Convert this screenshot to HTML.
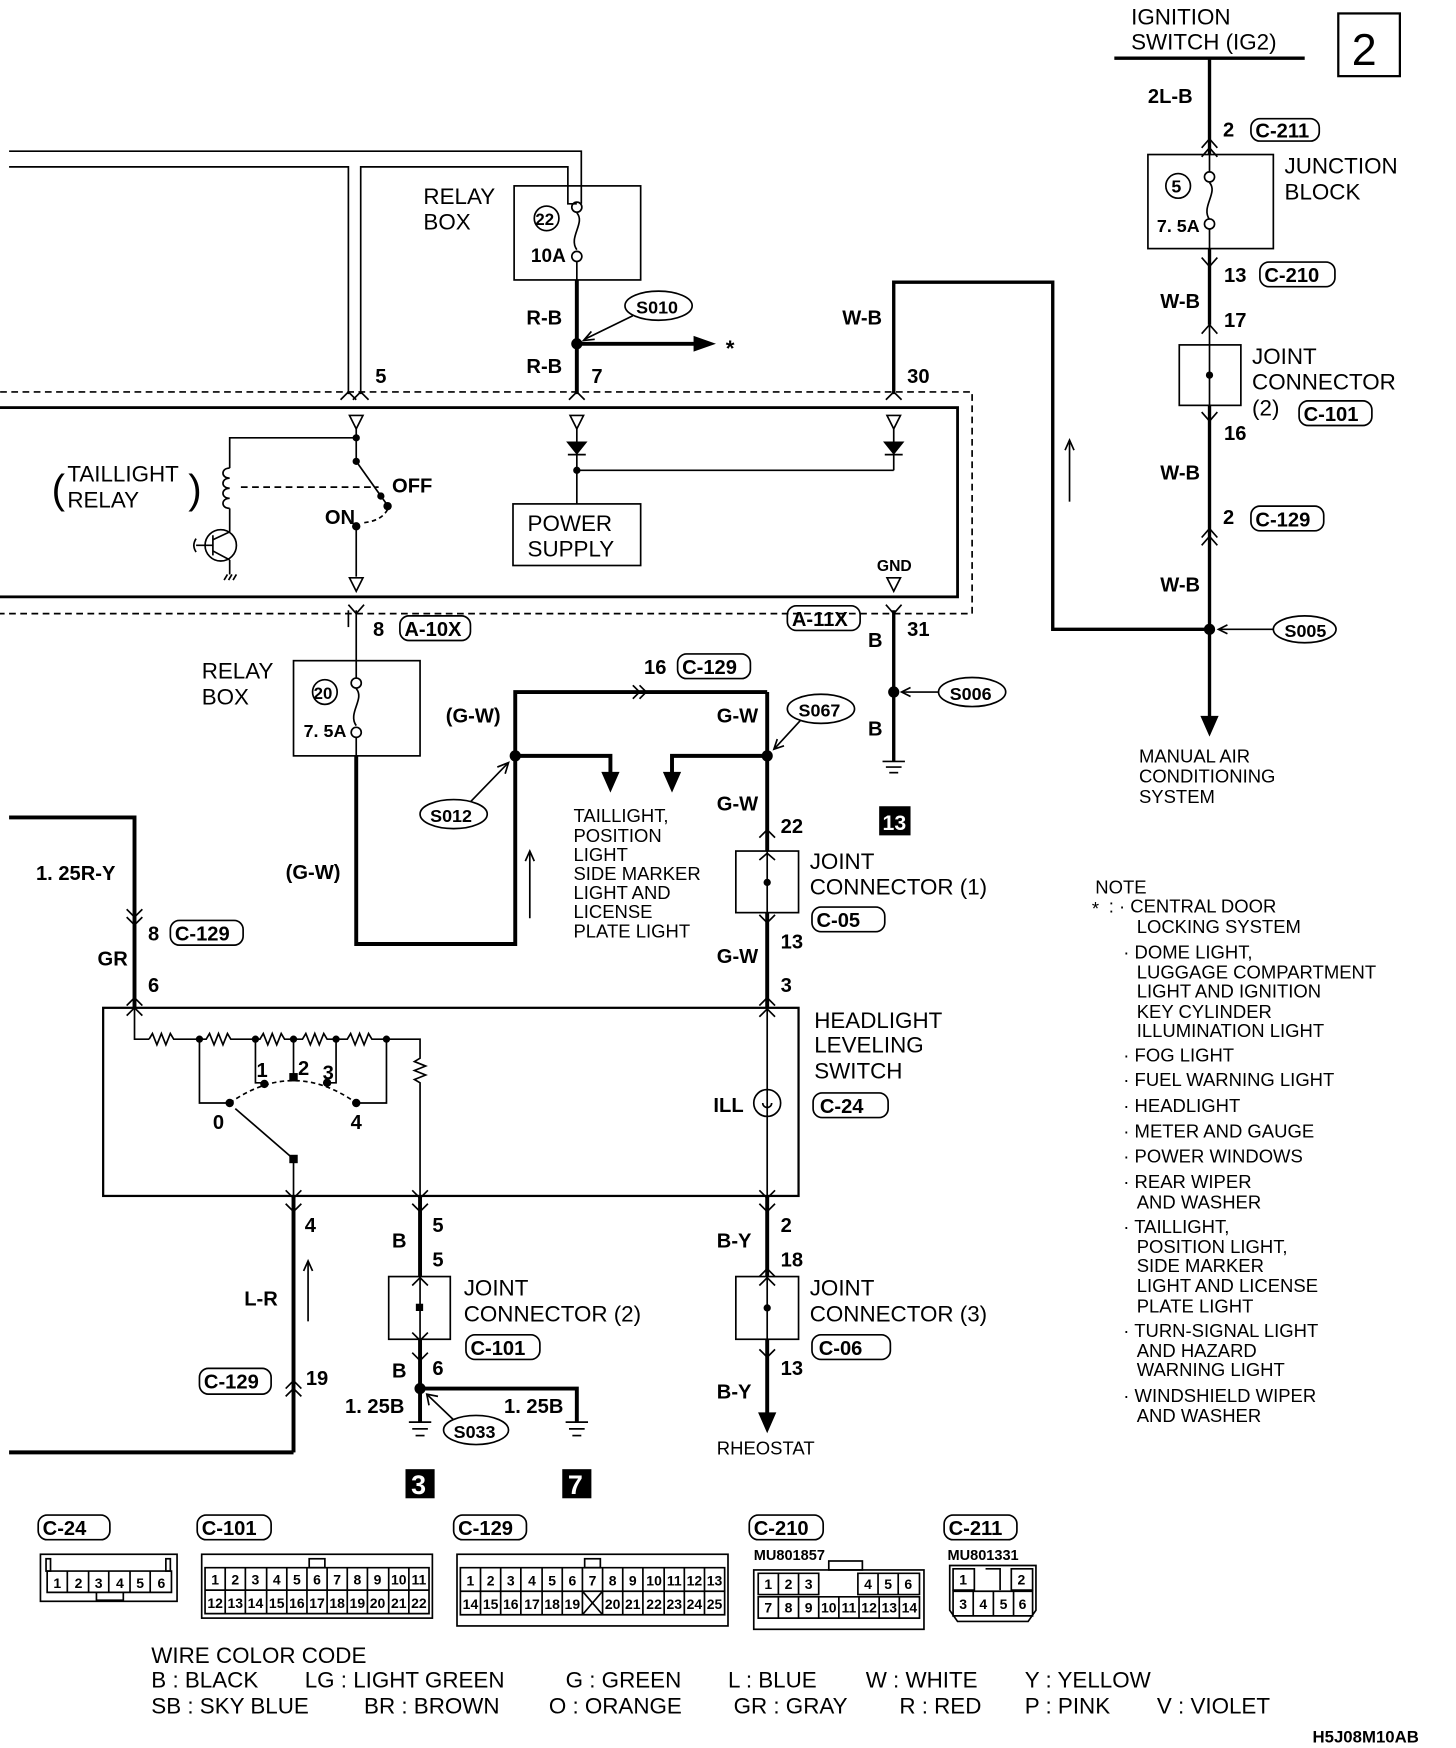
<!DOCTYPE html>
<html><head><meta charset="utf-8"><style>
html,body{margin:0;padding:0;background:#fff;}
svg{display:block;}
text{font-family:"Liberation Sans",sans-serif;fill:#000;}
.l{font-size:20px;}
.b{font-size:18px;font-weight:bold;}
.n{font-size:16.5px;}
.s{font-size:13px;font-weight:bold;}
.c{font-size:12.5px;font-weight:bold;text-anchor:middle;}
</style></head><body>
<svg width="1456" height="1748" viewBox="0 0 1300 1561" xmlns="http://www.w3.org/2000/svg">
<g fill="none" stroke="#000" stroke-width="1.5">
<line x1="995" y1="52" x2="1165" y2="52" stroke-width="3"/>
<rect x="1195" y="12" width="55" height="56" stroke-width="2"/>
<line x1="1080" y1="52" x2="1080" y2="138" stroke-width="3"/>
<polyline points="1073,132 1080,124 1087,132"/><polyline points="1073,140 1080,132 1087,140"/>
<rect x="1025" y="138" width="112" height="84"/>
<circle cx="1052" cy="166" r="11"/>
<line x1="1080" y1="138" x2="1080" y2="153"/>
<circle cx="1080" cy="158" r="4.5"/><path d="M1080 163 C1088 172 1072 185 1080 196"/>
<circle cx="1080" cy="200" r="4.5"/>
<line x1="1080" y1="205" x2="1080" y2="308"/>
<line x1="1080" y1="222" x2="1080" y2="290" stroke-width="3"/>
<polyline points="1073,230 1080,238 1087,230"/>
<polyline points="1073,298 1080,290 1087,298"/>
<rect x="1053" y="308" width="55" height="54"/>
<line x1="1080" y1="308" x2="1080" y2="362"/>
<circle cx="1080" cy="335" r="2.5" fill="#000"/>
<line x1="1080" y1="362" x2="1080" y2="650" stroke-width="3"/>
<polyline points="1073,368 1080,376 1087,368"/>
<polyline points="1073,480 1080,472 1087,480"/><polyline points="1073,487 1080,479 1087,487"/>
<polygon points="1073,640 1087,640 1080,656" fill="#000"/>
<path d="M798 352 V252 H940 V562 H1080" stroke-width="3"/>
<line x1="955" y1="448" x2="955" y2="395"/><polyline points="951,402 955,393 959,402"/>
<ellipse cx="1165" cy="562" rx="28" ry="12"/>
<line x1="1137" y1="562" x2="1088" y2="562"/><polyline points="1096,558 1088,562 1096,566"/>
<polyline points="8,135 519,135 519,182"/>
<polyline points="8,149 311,149 311,352"/>
<polyline points="322,352 322,149 507,149 507,182 515,182"/>
<rect x="459" y="166" width="113" height="84"/>
<circle cx="488" cy="195" r="11"/>
<circle cx="515" cy="185" r="4.5"/><path d="M515 190 C523 199 507 212 515 223"/>
<circle cx="515" cy="229" r="4.5"/>
<line x1="515" y1="234" x2="515" y2="250"/>
<line x1="515" y1="250" x2="515" y2="352" stroke-width="3.5"/>
<line x1="515" y1="307" x2="625" y2="307" stroke-width="3.5"/>
<polygon points="620,301 637,307 620,313" fill="#000"/>
<ellipse cx="588" cy="273" rx="30" ry="13"/>
<line x1="565" y1="282" x2="522" y2="303"/><polyline points="528,296 521,304 531,303"/>
<polyline points="304,357 311,350 318,357"/><polyline points="315,357 322,350 329,357"/>
<polyline points="508,357 515,350 522,357"/>
<polyline points="791,357 798,350 805,357"/>
<rect x="-20" y="350" width="888" height="198" stroke-dasharray="6,4"/>
<rect x="-10" y="364" width="865" height="169" stroke-width="2.5"/>
<polygon points="312,371 324,371 318,383"/>
<polygon points="509,371 521,371 515,383"/>
<polygon points="792,371 804,371 798,383"/>
<line x1="318" y1="383" x2="318" y2="410"/>
<polyline points="318,391 205,391 205,418"/>
<circle cx="318" cy="391" r="2.5" fill="#000"/><circle cx="318" cy="412" r="2.5" fill="#000"/>
<line x1="318" y1="412" x2="345" y2="450"/>
<circle cx="340" cy="443" r="2.5" fill="#000"/><circle cx="346" cy="452" r="3" fill="#000"/>
<path d="M346 455 Q340 466 322 467" stroke-dasharray="4,3"/>
<circle cx="318" cy="470" r="3" fill="#000"/>
<line x1="318" y1="470" x2="318" y2="515"/>
<polygon points="312,516 324,516 318,528"/>
<path d="M205 418 c-8 0 -8 9 0 9 c-8 0 -8 9 0 9 c-8 0 -8 9 0 9 c-8 0 -8 9 0 9"/>
<line x1="215" y1="435" x2="338" y2="435" stroke-dasharray="6,4"/>
<line x1="205" y1="454" x2="205" y2="475"/>
<circle cx="197" cy="487" r="14"/>
<line x1="190" y1="478" x2="190" y2="496"/>
<line x1="175" y1="487" x2="190" y2="487"/>
<path d="M175 481 q-4 6 0 12"/>
<line x1="190" y1="482" x2="205" y2="475"/><line x1="190" y1="492" x2="205" y2="500"/>
<line x1="205" y1="500" x2="205" y2="513"/>
<path d="M200 518 l3 -5 M204 518 l3 -5 M208 518 l3 -5"/>
<line x1="515" y1="383" x2="515" y2="450"/>
<polygon points="507,395 523,395 515,405" fill="#000"/><line x1="507" y1="406" x2="523" y2="406"/>
<line x1="798" y1="383" x2="798" y2="420"/>
<polygon points="790,395 806,395 798,405" fill="#000"/><line x1="790" y1="406" x2="806" y2="406"/>
<polyline points="515,420 798,420"/><circle cx="515" cy="420" r="2.5" fill="#000"/>
<rect x="458" y="450" width="114" height="55"/>
<polygon points="792,516 804,516 798,528"/>
<polyline points="311,540 318,548 325,540"/>
<line x1="318" y1="545" x2="318" y2="605"/>
<line x1="311" y1="545" x2="311" y2="560"/>
<polyline points="791,540 798,548 805,540"/>
<line x1="798" y1="545" x2="798" y2="680" stroke-width="3"/>
<ellipse cx="868" cy="618" rx="30" ry="13"/>
<line x1="838" y1="618" x2="806" y2="618"/><polyline points="813,614 805,618 813,622"/>
<line x1="788" y1="680" x2="808" y2="680"/><line x1="791" y1="685" x2="805" y2="685"/><line x1="794" y1="690" x2="802" y2="690"/>
<rect x="262" y="590" width="113" height="85"/>
<circle cx="290" cy="618" r="11"/>
<circle cx="318" cy="610" r="4.5"/><path d="M318 615 C326 624 310 637 318 648"/>
<circle cx="318" cy="654" r="4.5"/>
<path d="M318 675 V843 H460 V618 H685" stroke-width="3.5"/>
<line x1="318" y1="659" x2="318" y2="675"/>
<polyline points="565,612 571,618 565,624"/><polyline points="571,612 577,618 571,624"/>
<path d="M460 675 H545 V695" stroke-width="3.5"/>
<polygon points="538,690 552,690 545,706" fill="#000"/>
<path d="M685 675 H600 V695" stroke-width="3.5"/>
<polygon points="593,690 607,690 600,706" fill="#000"/>
<line x1="685" y1="618" x2="685" y2="760" stroke-width="3.5"/>
<ellipse cx="733" cy="633" rx="30" ry="13"/>
<line x1="715" y1="643" x2="692" y2="668"/><polyline points="694,660 691,669 700,666"/>
<ellipse cx="405" cy="727" rx="30" ry="13"/>
<line x1="420" y1="716" x2="453" y2="682"/><polyline points="444,685 454,681 451,691"/>
<line x1="473" y1="820" x2="473" y2="762"/><polyline points="469,769 473,760 477,769"/>
<polyline points="678,748 685,741 692,748"/>
<rect x="657" y="760" width="56" height="55"/>
<line x1="685" y1="760" x2="685" y2="815"/>
<polyline points="678,768 685,762 692,768"/>
<circle cx="685" cy="788" r="2.5" fill="#000"/>
<polyline points="678,817 685,824 692,817"/>
<line x1="685" y1="815" x2="685" y2="900" stroke-width="3.5"/>
<polyline points="678,898 685,891 692,898"/>
<polyline points="678,908 685,901 692,908"/>
<path d="M8 730 H120 V900" stroke-width="3.5"/>
<polyline points="113,812 120,819 127,812"/><polyline points="113,819 120,826 127,819"/>
<polyline points="113,898 120,891 127,898"/><polyline points="113,907 120,900 127,907"/>
<rect x="92" y="900" width="621" height="168" stroke-width="2"/>
<polyline points="120,900 120,928 133,928"/>
<path d="M133 928 l3 -5 l4 10 l4 -10 l4 10 l4 -10 l3 5 H178"/>
<path d="M178 928 H184 l3 -5 l4 10 l4 -10 l4 10 l4 -10 l3 5 H228"/>
<path d="M228 928 H232 l3 -5 l4 10 l4 -10 l4 10 l4 -10 l3 5 H262"/>
<path d="M262 928 H270 l3 -5 l4 10 l4 -10 l4 10 l4 -10 l3 5 H300"/>
<path d="M300 928 H310 l3 -5 l4 10 l4 -10 l4 10 l4 -10 l3 5 H345 H375 V945 l-5 3 l10 4 l-10 4 l10 4 l-10 4 l5 3 V1068"/>
<circle cx="178" cy="928" r="2.5" fill="#000"/><circle cx="228" cy="928" r="2.5" fill="#000"/><circle cx="262" cy="928" r="2.5" fill="#000"/><circle cx="300" cy="928" r="2.5" fill="#000"/><circle cx="345" cy="928" r="2.5" fill="#000"/>
<polyline points="178,928 178,985 205,985"/>
<polyline points="228,928 228,967 233,967"/>
<line x1="262" y1="928" x2="262" y2="962"/>
<polyline points="300,928 300,967 295,967"/>
<polyline points="345,928 345,985 318,985"/>
<path d="M205 985 Q262 945 318 985" stroke-dasharray="4,3"/>
<circle cx="205" cy="985" r="3" fill="#000"/><circle cx="236" cy="968" r="3" fill="#000"/><rect x="259" y="959" width="6" height="6" fill="#000"/><circle cx="292" cy="967" r="3" fill="#000"/><circle cx="318" cy="985" r="3" fill="#000"/>
<line x1="210" y1="990" x2="262" y2="1035"/><rect x="259" y="1032" width="6" height="6" fill="#000"/>
<line x1="262" y1="1035" x2="262" y2="1297" stroke-width="1.5"/>
<line x1="262" y1="1068" x2="262" y2="1297" stroke-width="3.5"/>
<line x1="262" y1="1297" x2="8" y2="1297" stroke-width="3.5"/>
<polyline points="255,1063 262,1070 269,1063"/><polyline points="255,1075 262,1082 269,1075"/>
<polyline points="255,1240 262,1233 269,1240"/><polyline points="255,1247 262,1240 269,1247"/>
<line x1="275" y1="1180" x2="275" y2="1128"/><polyline points="271,1135 275,1126 279,1135"/>
<polyline points="368,1063 375,1070 382,1063"/><polyline points="368,1075 375,1082 382,1075"/>
<line x1="375" y1="1068" x2="375" y2="1140" stroke-width="3.5"/>
<polyline points="368,1148 375,1141 382,1148"/>
<rect x="347" y="1140" width="55" height="56"/>
<line x1="375" y1="1140" x2="375" y2="1196"/>
<rect x="372" y="1165" width="5" height="5" fill="#000"/>
<polyline points="368,1190 375,1197 382,1190"/>
<line x1="375" y1="1196" x2="375" y2="1270" stroke-width="3.5"/>
<polyline points="368,1208 375,1215 382,1208"/>
<path d="M375 1240 H515 V1270" stroke-width="3.5"/>
<line x1="365" y1="1270" x2="385" y2="1270"/><line x1="368" y1="1276" x2="382" y2="1276"/><line x1="371" y1="1282" x2="379" y2="1282"/>
<line x1="505" y1="1270" x2="525" y2="1270"/><line x1="508" y1="1276" x2="522" y2="1276"/><line x1="511" y1="1282" x2="519" y2="1282"/>
<ellipse cx="425" cy="1277" rx="29" ry="13"/>
<line x1="405" y1="1268" x2="382" y2="1246"/><polyline points="383,1255 381,1245 391,1247"/>
<line x1="685" y1="900" x2="685" y2="1068"/>
<circle cx="685" cy="985" r="12"/>
<path d="M681 985 a4 4 0 1 0 8 0"/>
<line x1="685" y1="1068" x2="685" y2="1140" stroke-width="3.5"/>
<polyline points="678,1063 685,1070 692,1063"/><polyline points="678,1075 685,1082 692,1075"/>
<polyline points="678,1140 685,1133 692,1140"/>
<rect x="657" y="1140" width="56" height="56"/>
<line x1="685" y1="1140" x2="685" y2="1196"/>
<polyline points="678,1148 685,1141 692,1148"/>
<circle cx="685" cy="1168" r="2.5" fill="#000"/>
<polyline points="678,1205 685,1212 692,1205"/>
<line x1="685" y1="1196" x2="685" y2="1266" stroke-width="3.5"/>
<polygon points="678,1262 692,1262 685,1278" fill="#000"/>
<rect x="1117" y="106" width="61" height="20" rx="8"/>
<rect x="1125" y="234" width="67" height="22" rx="8"/>
<rect x="1160" y="358" width="65" height="22" rx="8"/>
<rect x="1117" y="452" width="65" height="22" rx="8"/>
<rect x="357" y="550" width="63" height="22" rx="8"/>
<rect x="703" y="541" width="65" height="22" rx="8"/>
<rect x="605" y="584" width="65" height="22" rx="8"/>
<rect x="725" y="810" width="65" height="22" rx="8"/>
<rect x="152" y="822" width="65" height="22" rx="8"/>
<rect x="726" y="976" width="67" height="22" rx="8"/>
<rect x="416" y="1192" width="66" height="22" rx="8"/>
<rect x="725" y="1192" width="70" height="22" rx="8"/>
<rect x="178" y="1222" width="64" height="23" rx="8"/>
<rect x="34" y="1353" width="64" height="22" rx="8"/>
<rect x="176" y="1353" width="66" height="22" rx="8"/>
<rect x="405" y="1353" width="65" height="22" rx="8"/>
<rect x="669" y="1353" width="66" height="22" rx="8"/>
<rect x="843" y="1353" width="65" height="22" rx="8"/>
<rect x="36" y="1388" width="122" height="42"/>
<path d="M42 1403 H153 V1422 H42 Z M60 1403 V1422 M79 1403 V1422 M97 1403 V1422 M116 1403 V1422 M134 1403 V1422"/>
<rect x="41" y="1392" width="4" height="11"/><rect x="148" y="1392" width="4" height="11"/>
<path d="M86 1422 V1429 H110 V1422"/>
<rect x="180" y="1388" width="206" height="57"/>
<path d="M183 1400 H383 V1441 H183 Z M183 1420 H383"/>
<path d="M201 1400 V1441 M219 1400 V1441 M238 1400 V1441 M256 1400 V1441 M274 1400 V1441 M292 1400 V1441 M310 1400 V1441 M328 1400 V1441 M347 1400 V1441 M365 1400 V1441"/>
<rect x="276" y="1392" width="14" height="8"/>
<rect x="408" y="1388" width="242" height="64"/>
<path d="M411 1400 H647 V1442 H411 Z M411 1421 H647"/>
<path d="M429 1400 V1442 M447 1400 V1442 M465 1400 V1442 M484 1400 V1442 M502 1400 V1442 M520 1400 V1442 M538 1400 V1442 M556 1400 V1442 M574 1400 V1442 M593 1400 V1442 M611 1400 V1442 M629 1400 V1442"/>
<path d="M520 1421 L538 1442 M538 1421 L520 1442"/>
<rect x="522" y="1392" width="14" height="8"/>
<rect x="673" y="1402" width="152" height="53"/>
<path d="M677 1405 H731 V1424 H677 Z M695 1405 V1424 M713 1405 V1424"/>
<path d="M766 1405 H821 V1424 H766 Z M784 1405 V1424 M802 1405 V1424"/>
<path d="M677 1426 H821 V1445 H677 Z M695 1426 V1445 M713 1426 V1445 M731 1426 V1445 M749 1426 V1445 M767 1426 V1445 M785 1426 V1445 M803 1426 V1445"/>
<rect x="740" y="1394" width="30" height="8"/>
<path d="M848 1398 H925 V1438 L918 1448 H855 L848 1438 Z"/>
<path d="M851 1401 H870 V1420 H851 Z M903 1401 H922 V1420 H903 Z M880 1401 H893 V1420"/>
<path d="M851 1421 H922 V1443 H851 Z M869 1421 V1443 M887 1421 V1443 M905 1421 V1443"/>
</g>
<g fill="#000">
<circle cx="1080" cy="562" r="5"/>
<circle cx="515" cy="307" r="5"/>
<circle cx="798" cy="618" r="5"/>
<circle cx="460" cy="675" r="5"/>
<circle cx="685" cy="675" r="5"/>
<circle cx="375" cy="1240" r="5"/>
<rect x="785" y="720" width="28" height="26"/>
<rect x="362" y="1312" width="26" height="26"/>
<rect x="502" y="1312" width="26" height="26"/>
</g>
<g class="l">
<text x="1010" y="22">IGNITION</text><text x="1010" y="44">SWITCH (IG2)</text>
<text x="1147" y="155">JUNCTION</text><text x="1147" y="178">BLOCK</text>
<text x="1118" y="325">JOINT</text><text x="1118" y="348">CONNECTOR</text><text x="1118" y="371">(2)</text>
<text x="378" y="182">RELAY</text><text x="378" y="205">BOX</text>
<text x="180" y="606">RELAY</text><text x="180" y="629">BOX</text>
<text x="60" y="430">TAILLIGHT</text><text x="60" y="453">RELAY</text>
<text x="471" y="474">POWER</text><text x="471" y="497">SUPPLY</text>
<text x="723" y="776">JOINT</text><text x="723" y="799">CONNECTOR (1)</text>
<text x="727" y="918">HEADLIGHT</text><text x="727" y="940">LEVELING</text><text x="727" y="963">SWITCH</text>
<text x="414" y="1157">JOINT</text><text x="414" y="1180">CONNECTOR (2)</text>
<text x="723" y="1157">JOINT</text><text x="723" y="1180">CONNECTOR (3)</text>
<text x="135" y="1485">WIRE COLOR CODE</text>
<text x="135" y="1507">B : BLACK</text><text x="272" y="1507">LG : LIGHT GREEN</text><text x="505" y="1507">G : GREEN</text><text x="650" y="1507">L : BLUE</text><text x="773" y="1507">W : WHITE</text><text x="915" y="1507">Y : YELLOW</text>
<text x="135" y="1530">SB : SKY BLUE</text><text x="325" y="1530">BR : BROWN</text><text x="490" y="1530">O : ORANGE</text><text x="655" y="1530">GR : GRAY</text><text x="803" y="1530">R : RED</text><text x="915" y="1530">P : PINK</text><text x="1033" y="1530">V : VIOLET</text>
</g>
<text x="1207" y="58" style="font-size:40px">2</text>
<text x="46" y="449" style="font-size:36px;font-weight:200">(</text>
<text x="168" y="449" style="font-size:36px;font-weight:200">)</text>
<g class="b">
<text x="1025" y="92">2L-B</text><text x="1092" y="122">2</text><text x="1121" y="123">C-211</text>
<text x="1046" y="172" style="font-size:16px">5</text><text x="1033" y="207" style="font-size:16px">7. 5A</text>
<text x="1093" y="252">13</text><text x="1129" y="252">C-210</text>
<text x="1036" y="275">W-B</text><text x="1093" y="292">17</text>
<text x="1164" y="376">C-101</text>
<text x="1093" y="393">16</text><text x="1036" y="428">W-B</text>
<text x="1092" y="468">2</text><text x="1121" y="470">C-129</text>
<text x="1036" y="528">W-B</text>
<text x="1147" y="569" style="font-size:16px">S005</text>
<text x="478" y="201" style="font-size:15px">22</text><text x="474" y="234" style="font-size:17px">10A</text>
<text x="470" y="290">R-B</text><text x="470" y="333">R-B</text><text x="528" y="342">7</text>
<text x="568" y="280" style="font-size:16px">S010</text>
<text x="648" y="318" style="font-size:20px">*</text>
<text x="335" y="342">5</text>
<text x="752" y="290">W-B</text><text x="810" y="342">30</text>
<text x="350" y="440">OFF</text><text x="290" y="468">ON</text>
<text x="783" y="510" style="font-size:14px">GND</text>
<text x="333" y="568">8</text><text x="361" y="568">A-10X</text>
<text x="707" y="559">A-11X</text>
<text x="775" y="578">B</text><text x="810" y="568">31</text>
<text x="848" y="625" style="font-size:16px">S006</text>
<text x="775" y="657">B</text>
<text x="788" y="741" style="fill:#fff;font-size:19px">13</text>
<text x="280" y="624" style="font-size:15px">20</text><text x="271" y="658" style="font-size:16px">7. 5A</text>
<text x="575" y="602">16</text><text x="609" y="602">C-129</text>
<text x="398" y="645">(G-W)</text><text x="640" y="645">G-W</text>
<text x="713" y="640" style="font-size:16px">S067</text>
<text x="384" y="734" style="font-size:16px">S012</text>
<text x="255" y="785">(G-W)</text>
<text x="640" y="724">G-W</text><text x="697" y="744">22</text>
<text x="729" y="828">C-05</text>
<text x="697" y="847">13</text><text x="640" y="860">G-W</text><text x="697" y="886">3</text>
<text x="32" y="786">1. 25R-Y</text>
<text x="132" y="840">8</text><text x="156" y="840">C-129</text>
<text x="87" y="862">GR</text><text x="132" y="886">6</text>
<text x="229" y="962">1</text><text x="266" y="960">2</text><text x="288" y="964">3</text>
<text x="190" y="1008">0</text><text x="313" y="1008">4</text>
<text x="637" y="993">ILL</text><text x="732" y="994">C-24</text>
<text x="272" y="1100">4</text><text x="218" y="1166">L-R</text>
<text x="182" y="1240">C-129</text><text x="273" y="1237">19</text>
<text x="386" y="1100">5</text><text x="350" y="1114">B</text><text x="386" y="1131">5</text>
<text x="420" y="1210">C-101</text>
<text x="350" y="1230">B</text><text x="386" y="1228">6</text>
<text x="308" y="1262">1. 25B</text><text x="450" y="1262">1. 25B</text>
<text x="405" y="1284" style="font-size:16px">S033</text>
<text x="367" y="1334" style="fill:#fff;font-size:24px">3</text>
<text x="507" y="1334" style="fill:#fff;font-size:24px">7</text>
<text x="697" y="1100">2</text><text x="640" y="1114">B-Y</text><text x="697" y="1131">18</text>
<text x="731" y="1210">C-06</text>
<text x="697" y="1228">13</text><text x="640" y="1249">B-Y</text>
<text x="38" y="1371">C-24</text><text x="180" y="1371">C-101</text><text x="409" y="1371">C-129</text><text x="673" y="1371">C-210</text><text x="847" y="1371">C-211</text>
<text x="1172" y="1556" style="font-size:15px">H5J08M10AB</text>
</g>
<text x="673" y="1393" class="s">MU801857</text>
<text x="846" y="1393" class="s">MU801331</text>
<g class="n">
<text x="512" y="734">TAILLIGHT,</text><text x="512" y="752">POSITION</text><text x="512" y="769">LIGHT</text><text x="512" y="786">SIDE MARKER</text><text x="512" y="803">LIGHT AND</text><text x="512" y="820">LICENSE</text><text x="512" y="837">PLATE LIGHT</text>
<text x="1017" y="681">MANUAL AIR</text><text x="1017" y="699">CONDITIONING</text><text x="1017" y="717">SYSTEM</text>
<text x="640" y="1299">RHEOSTAT</text>
<text x="978" y="798">NOTE</text>
<text x="975" y="817">*</text><text x="990" y="815">: · CENTRAL DOOR</text>
<text x="1015" y="833">LOCKING SYSTEM</text>
<text x="1003" y="856">· DOME LIGHT,</text>
<text x="1015" y="874">LUGGAGE COMPARTMENT</text><text x="1015" y="891">LIGHT AND IGNITION</text><text x="1015" y="909">KEY CYLINDER</text><text x="1015" y="926">ILLUMINATION LIGHT</text>
<text x="1003" y="948">· FOG LIGHT</text>
<text x="1003" y="970">· FUEL WARNING LIGHT</text>
<text x="1003" y="993">· HEADLIGHT</text>
<text x="1003" y="1016">· METER AND GAUGE</text>
<text x="1003" y="1038">· POWER WINDOWS</text>
<text x="1003" y="1061">· REAR WIPER</text><text x="1015" y="1079">AND WASHER</text>
<text x="1003" y="1101">· TAILLIGHT,</text><text x="1015" y="1119">POSITION LIGHT,</text><text x="1015" y="1136">SIDE MARKER</text><text x="1015" y="1154">LIGHT AND LICENSE</text><text x="1015" y="1172">PLATE LIGHT</text>
<text x="1003" y="1194">· TURN-SIGNAL LIGHT</text><text x="1015" y="1212">AND HAZARD</text><text x="1015" y="1229">WARNING LIGHT</text>
<text x="1003" y="1252">· WINDSHIELD WIPER</text><text x="1015" y="1270">AND WASHER</text>
</g>
<g class="c">
<text x="51" y="1418">1</text><text x="70" y="1418">2</text><text x="88" y="1418">3</text><text x="107" y="1418">4</text><text x="125" y="1418">5</text><text x="144" y="1418">6</text>
<text x="192" y="1415">1</text><text x="210" y="1415">2</text><text x="228" y="1415">3</text><text x="247" y="1415">4</text><text x="265" y="1415">5</text><text x="283" y="1415">6</text><text x="301" y="1415">7</text><text x="319" y="1415">8</text><text x="337" y="1415">9</text><text x="356" y="1415">10</text><text x="374" y="1415">11</text>
<text x="192" y="1436">12</text><text x="210" y="1436">13</text><text x="228" y="1436">14</text><text x="247" y="1436">15</text><text x="265" y="1436">16</text><text x="283" y="1436">17</text><text x="301" y="1436">18</text><text x="319" y="1436">19</text><text x="337" y="1436">20</text><text x="356" y="1436">21</text><text x="374" y="1436">22</text>
<text x="420" y="1416">1</text><text x="438" y="1416">2</text><text x="456" y="1416">3</text><text x="475" y="1416">4</text><text x="493" y="1416">5</text><text x="511" y="1416">6</text><text x="529" y="1416">7</text><text x="547" y="1416">8</text><text x="565" y="1416">9</text><text x="584" y="1416">10</text><text x="602" y="1416">11</text><text x="620" y="1416">12</text><text x="638" y="1416">13</text>
<text x="420" y="1437">14</text><text x="438" y="1437">15</text><text x="456" y="1437">16</text><text x="475" y="1437">17</text><text x="493" y="1437">18</text><text x="511" y="1437">19</text><text x="547" y="1437">20</text><text x="565" y="1437">21</text><text x="584" y="1437">22</text><text x="602" y="1437">23</text><text x="620" y="1437">24</text><text x="638" y="1437">25</text>
<text x="686" y="1419">1</text><text x="704" y="1419">2</text><text x="722" y="1419">3</text><text x="775" y="1419">4</text><text x="793" y="1419">5</text><text x="811" y="1419">6</text>
<text x="686" y="1440">7</text><text x="704" y="1440">8</text><text x="722" y="1440">9</text><text x="740" y="1440">10</text><text x="758" y="1440">11</text><text x="776" y="1440">12</text><text x="794" y="1440">13</text><text x="812" y="1440">14</text>
<text x="860" y="1415">1</text><text x="912" y="1415">2</text>
<text x="860" y="1437">3</text><text x="878" y="1437">4</text><text x="896" y="1437">5</text><text x="913" y="1437">6</text>
</g>
</svg>
</body></html>
